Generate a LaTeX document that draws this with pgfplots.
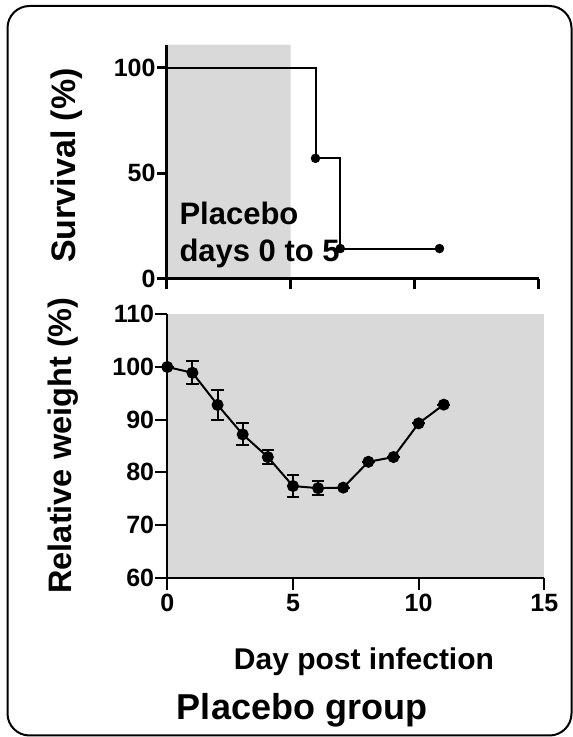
\documentclass[border=0pt]{standalone}
\usepackage{fontspec}
\setmainfont{Liberation Sans}
\usepackage{pgfplots}
\pgfplotsset{compat=1.18}
\definecolor{shade}{RGB}{217,217,217}
\newcommand{\fs}[1]{\fontsize{#1}{#1}\selectfont\bfseries}

\begin{document}
\begin{tikzpicture}[x=1pt,y=1pt]
\useasboundingbox (0,0) rectangle (573,737);
\clip (0,0) rectangle (573,737);
\draw[line width=2pt, rounded corners=22pt] (7.5,1.5) rectangle (571.5,731);

% survival
\begin{axis}[at={(166.7pt,458.3pt)}, anchor=south west, scale only axis,
  width=372pt, height=234pt,
  xmin=0, xmax=15, ymin=0, ymax=111,
  axis x line*=bottom, axis y line*=left,
  axis line style={-, line width=3pt},
  xtick={0,5,10,15}, xticklabels={},
  ytick={0,50,100},
  tick align=outside, major tick length=10pt,
  tick style={line width=3pt, black},
  yticklabel style={font=\fs{25}, inner sep=1pt},
  /pgf/number format/assume math mode=true,
  axis on top, clip=false]
  \addplot[fill=shade, draw=none] coordinates {(0,0)(0,111)(5,111)(5,0)} \closedcycle;
  \addplot[black, line width=2pt, mark=none] coordinates {
    (0,100)(6,100)(6,57.1)(7,57.1)(7,14.3)(11,14.3)};
  \addplot[black, only marks, mark=*, mark size=4.5pt] coordinates {
    (6,57.1)(7,14.3)(11,14.3)};
\end{axis}

% weight
\pgfplotstableread{
x y e
0 100.0 0
1 98.9 2.2
2 92.8 2.9
3 87.2 2.1
4 82.9 1.25
5 77.4 2.1
6 77.0 1.3
7 77.1 0
8 82.0 0
9 82.9 0
10 89.3 0
11 92.85 0
}\weight
\begin{axis}[at={(167.3pt,159.3pt)}, anchor=south west, scale only axis,
  width=377pt, height=263.4pt,
  xmin=0, xmax=15, ymin=60, ymax=110,
  axis background/.style={fill=shade},
  axis x line*=bottom, axis y line*=left,
  axis line style={-, line width=2pt},
  xtick={0,5,10,15}, ytick={60,70,...,110},
  tick align=outside, major tick length=12pt,
  tick style={line width=2pt, black},
  yticklabel style={font=\fs{25}, inner sep=1pt},
  xticklabel style={font=\fs{25}, inner sep=1pt, yshift=-3pt},
  /pgf/number format/assume math mode=true,
  clip=false]
  \addplot[black, line width=2pt, mark=*, mark size=5.5pt,
    mark options={solid, line width=1pt},
    error bars/.cd, y dir=both, y explicit,
    error bar style={line width=2pt},
    error mark options={rotate=90, mark size=6.3pt, line width=2pt}]
    table[x=x, y=y, y error=e] {\weight};
\end{axis}

\node[font=\fs{31}, anchor=base west, inner sep=0pt] at (179.3,512) {Placebo};
\node[font=\fs{31}, anchor=base west, inner sep=0pt] at (179.3,475.3) {days 0 to 5};

\node[rotate=90, font=\fs{34}] at (66.5,571.5) {Survival (\%)};
\node[rotate=90, font=\fs{32.5}] at (63,291.5) {Relative weight (\%)};
\node[font=\fs{30}, anchor=base] at (364,67) {Day post infection};
\node[font=\fs{36}, anchor=base] at (302,17) {Placebo group};
\end{tikzpicture}
\end{document}
